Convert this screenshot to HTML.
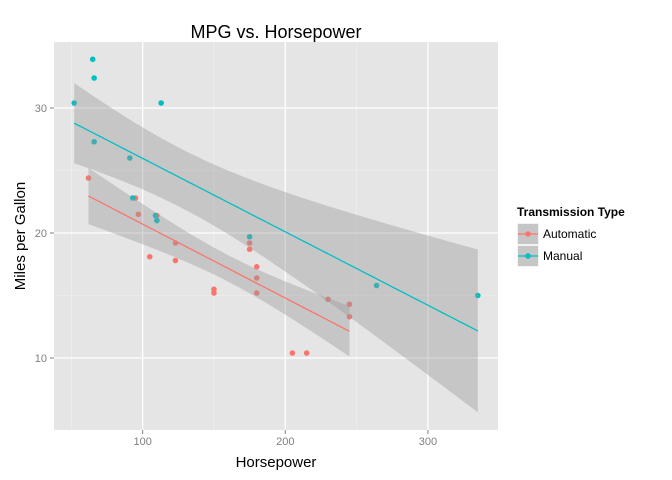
<!DOCTYPE html>
<html><head><meta charset="utf-8"><style>
body{margin:0;background:#fff;}
svg{display:block;font-family:"Liberation Sans",sans-serif;}
</style></head><body>
<svg id="chart" width="672" height="480"></svg>
<script>
const autoHp=[110,175,105,245,62,95,123,123,180,180,180,205,215,230,97,150,150,245,175];
const autoMpg=[21.4,18.7,18.1,14.3,24.4,22.8,19.2,17.8,16.4,17.3,15.2,10.4,10.4,14.7,21.5,15.5,15.2,13.3,19.2];
const manHp=[110,110,93,66,52,65,66,91,113,264,175,335,109];
const manMpg=[21,21,22.8,32.4,30.4,33.9,27.3,26,30.4,15.8,19.7,15,21.4];
const xTicks=[100,200,300];
const yTicks=[10,20,30];
const xMinor=[50,150,250];
const yMinor=[15,25];
const seriesNames=["Automatic","Manual"];
const tQuant=[2.110,2.201];

const NS="http://www.w3.org/2000/svg";
const svg=document.getElementById('chart');
const L=54,R=498,T=42,B=430;
const xmin=37.85,xmax=349.15,ymin=4.24,ymax=35.28;
const sx=v=>L+(v-xmin)/(xmax-xmin)*(R-L);
const sy=v=>B-(v-ymin)/(ymax-ymin)*(B-T);
function mk(tag,attrs,parent){const e=document.createElementNS(NS,tag);for(const k in attrs)e.setAttribute(k,attrs[k]);(parent||svg).appendChild(e);return e;}

let bg=mk('rect',{x:L,y:T,width:R-L,height:B-T,fill:'#E5E5E5'});


xMinor.forEach(v=>{let l=mk('line',{x1:sx(v),x2:sx(v),y1:T,y2:B,stroke:'#F2F2F2','stroke-width':0.6});

});
yMinor.forEach(v=>{let l=mk('line',{x1:L,x2:R,y1:sy(v),y2:sy(v),stroke:'#F2F2F2','stroke-width':0.6});

});
xTicks.forEach(v=>{let l=mk('line',{x1:sx(v),x2:sx(v),y1:T,y2:B,stroke:'#fff','stroke-width':1.3});


let t=mk('line',{x1:sx(v),x2:sx(v),y1:B,y2:B+4,stroke:'#7F7F7F'});


let tx=mk('text',{x:sx(v),y:B+15,'text-anchor':'middle','font-size':11,fill:'#7F7F7F'});tx.textContent=v;

});
yTicks.forEach(v=>{let l=mk('line',{x1:L,x2:R,y1:sy(v),y2:sy(v),stroke:'#fff','stroke-width':1.3});


let t=mk('line',{x1:L-4,x2:L,y1:sy(v),y2:sy(v),stroke:'#7F7F7F'});


let tx=mk('text',{x:L-7,y:sy(v)+4,'text-anchor':'end','font-size':11,fill:'#7F7F7F'});tx.textContent=v;

});

const colors=['#F8766D','#00BFC4'];
const data=[[autoHp,autoMpg],[manHp,manMpg]];
const fits=data.map(([xs,ys],i)=>{
  const n=xs.length,mx=xs.reduce((a,b)=>a+b)/n,my=ys.reduce((a,b)=>a+b)/n;
  let sxx=0,sxy=0;xs.forEach((x,j)=>{sxx+=(x-mx)**2;sxy+=(x-mx)*(ys[j]-my);});
  const b=sxy/sxx,a=my-b*mx;let sse=0;xs.forEach((x,j)=>{sse+=(ys[j]-a-b*x)**2;});
  const s=Math.sqrt(sse/(n-2));
  const lo=Math.min(...xs),hi=Math.max(...xs);const up=[],dn=[],ln=[];
  for(let k=0;k<=80;k++){const x=lo+(hi-lo)*k/80,y=a+b*x,se=s*Math.sqrt(1/n+(x-mx)**2/sxx)*tQuant[i];
    ln.push([sx(x),sy(y)]);up.push([sx(x),sy(y+se)]);dn.push([sx(x),sy(y-se)]);}
  return {ln,up,dn};
});
data.forEach(([xs,ys],i)=>{xs.forEach((x,j)=>{let c=mk('circle',{cx:sx(x),cy:sy(ys[j]),r:2.8,fill:colors[i]});

});});
fits.forEach((f,i)=>{
  const pts=f.up.concat(f.dn.slice().reverse()).map(p=>p.join(',')).join(' ');
  let r=mk('polygon',{points:pts,fill:'#999999','fill-opacity':0.4});
  
  
  let p=mk('polyline',{points:f.ln.map(p=>p.join(',')).join(' '),fill:'none',stroke:colors[i],'stroke-width':1.3});
  
  
});

let title=mk('text',{x:276,y:38,'text-anchor':'middle','font-size':18,fill:'#000'});title.textContent='MPG vs. Horsepower';


let xt=mk('text',{x:276,y:467,'text-anchor':'middle','font-size':15,fill:'#000'});xt.textContent='Horsepower';


let yt=mk('text',{x:0,y:0,'text-anchor':'middle','font-size':15,fill:'#000',transform:'translate(25,236) rotate(-90)'});yt.textContent='Miles per Gallon';



let lt=mk('text',{x:517,y:216,'font-size':12,'font-weight':'bold',fill:'#000'});lt.textContent='Transmission Type';


seriesNames.forEach((nm,i)=>{
  const cy=234+i*22;
  let g=mk('g',{});
  
  
  mk('rect',{x:517,y:cy-11,width:22,height:22,fill:'#E5E5E5',stroke:'#fff','stroke-width':1},g);
  mk('rect',{x:518,y:cy-10,width:20,height:20,fill:'#999999','fill-opacity':0.4},g);
  mk('line',{x1:518,x2:538,y1:cy,y2:cy,stroke:colors[i],'stroke-width':1.3},g);
  mk('circle',{cx:528,cy:cy,r:2.8,fill:colors[i]},g);
  const t=mk('text',{x:543,y:cy+4,'font-size':12,fill:'#000'},g);t.textContent=nm;
});
</script>
</body></html>
